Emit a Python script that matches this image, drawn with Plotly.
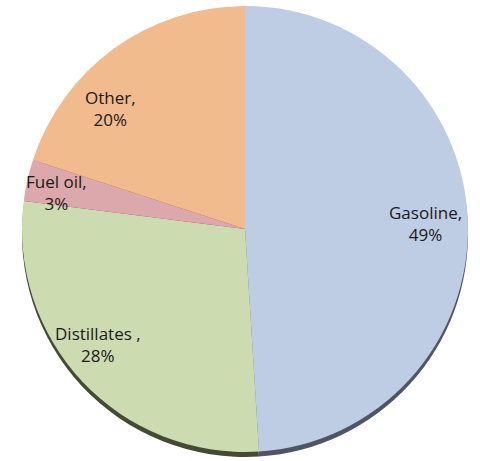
import math
import plotly.graph_objects as go

labels = ["Gasoline", "Distillates ", "Fuel oil", "Other"]
values = [49, 28, 3, 20]
colors = ["#bfcde4", "#cddcb0", "#dca8ab", "#f2bb8e"]
rim_colors = ["#4d5566", "#454a35", "#6a4446", "#7a5232"]

W, H = 480, 461
cx, cy, R = 245, 229, 223  # pixel geometry (style)

def dom(cx, cy, R):
    return dict(x=[(cx - R) / W, (cx + R) / W], y=[1 - (cy + R) / H, 1 - (cy - R) / H])

fig = go.Figure()
# 3D rim behind
fig.add_trace(go.Pie(labels=labels, values=values, sort=False, direction="clockwise",
                     rotation=0, marker=dict(colors=rim_colors, line=dict(width=0)),
                     textinfo="none", hoverinfo="skip", domain=dom(cx, cy + 5, R),
                     showlegend=False))
fig.add_trace(go.Pie(labels=labels, values=values, sort=False, direction="clockwise",
                     rotation=0, marker=dict(colors=colors, line=dict(width=0)),
                     textinfo="none", domain=dom(cx, cy, R), showlegend=False))

# label placement (style): radial fraction and angular nudge in degrees
radial = [0.81, 0.84, 0.86, 0.81]
nudge = [0, 5, -1.5, -12]
total = sum(values)
cum = 0
for lab, v, rf, dn in zip(labels, values, radial, nudge):
    mid = (cum + v / 2) / total * 2 * math.pi + math.radians(dn)
    cum += v
    r = rf * R
    px = cx + r * math.sin(mid)
    py = cy - r * math.cos(mid)
    fig.add_annotation(x=px / W, y=1 - py / H, xref="paper", yref="paper",
                       xanchor="center", yanchor="middle",
                       text=f"{lab},<br>{v}%", showarrow=False,
                       font=dict(family="Open Sans", size=17, color="#1a1a1a"))

fig.update_layout(width=W, height=H, margin=dict(l=0, r=0, t=0, b=0),
                  paper_bgcolor="white", plot_bgcolor="white")
fig.write_html("out.html")
